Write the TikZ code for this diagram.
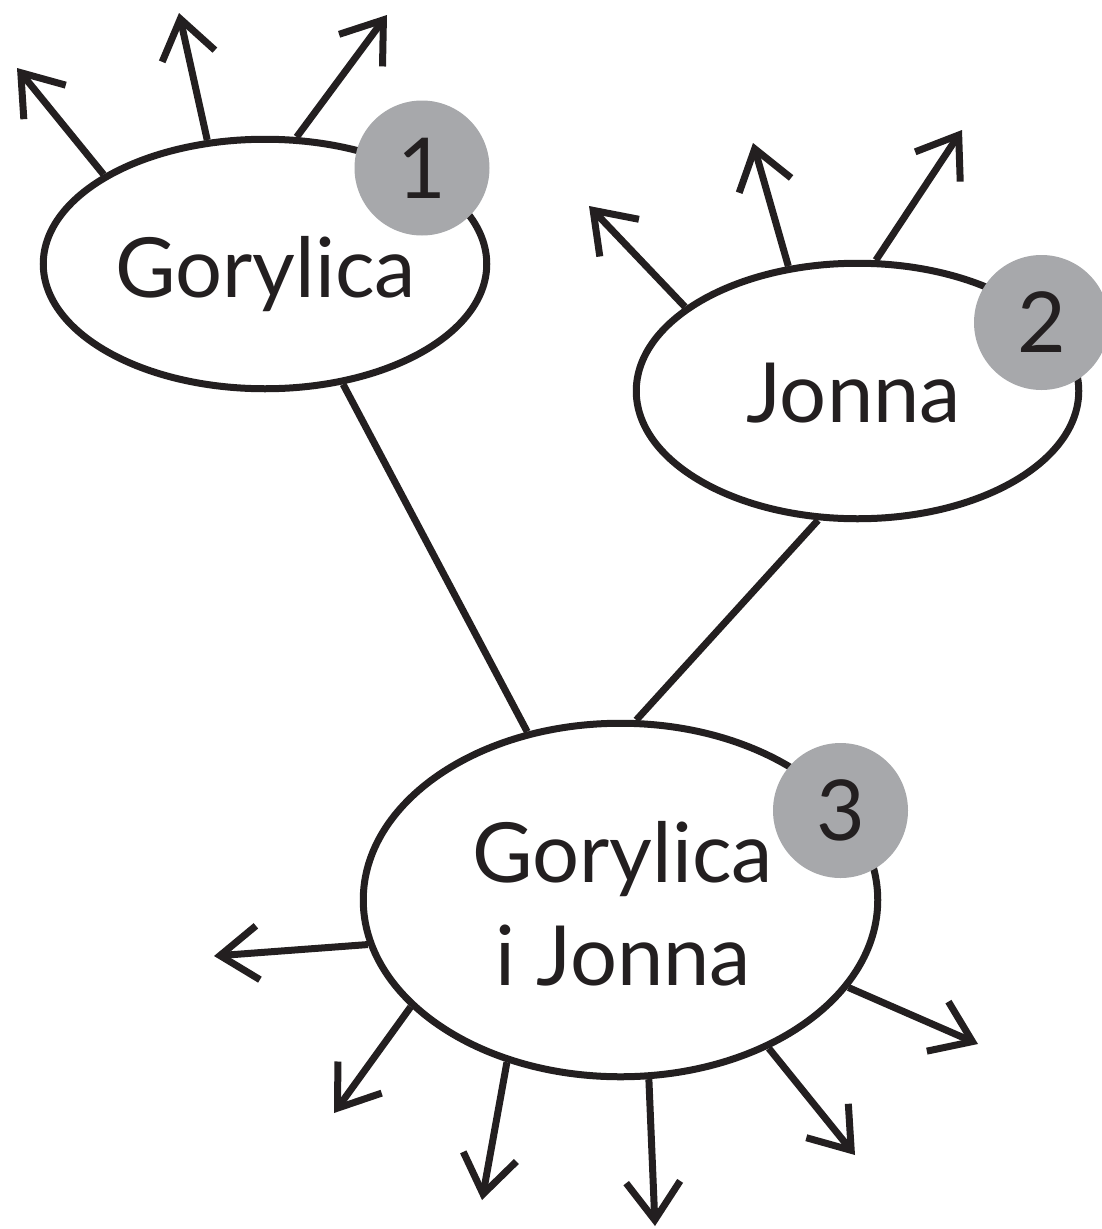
\documentclass[tikz,border=0pt]{standalone}
\usepackage{fontspec}
\setmainfont{Lato}
\usetikzlibrary{arrows.meta,shapes.geometric}
\definecolor{badgegray}{RGB}{167,168,171}
\definecolor{ink}{RGB}{35,31,32}
\begin{document}
\begin{tikzpicture}[x=1pt,y=-1pt,
  ell/.style={ellipse,draw=ink,line width=7pt,fill=white,inner sep=0pt},
  badge/.style={circle,fill=badgegray,minimum size=135pt,inner sep=0pt,font=\fontsize{84}{90}\selectfont,text=ink},
  lbl/.style={anchor=base,inner sep=0pt,font=\fontsize{83}{90}\selectfont,text=ink},
  link/.style={draw=ink,line width=7pt},
  outarrow/.style={draw=ink,line width=7pt,-{Straight Barb[length=38pt,width=54pt,line cap=butt,line join=miter]}}
]
\useasboundingbox (0,0) rectangle (1102,1229);
% ellipses
\node[ell,minimum width=443.5pt,minimum height=249.5pt] (g) at (265,264) {};
\node[ell,minimum width=442.5pt,minimum height=255.5pt] (j) at (857.5,391) {};
\node[ell,minimum width=514.5pt,minimum height=353.5pt] (gj) at (620.5,900) {};
% tips of outgoing arrows
\coordinate (g1) at (17,68);
\coordinate (g2) at (179,13);
\coordinate (g3) at (387,15);
\coordinate (j1) at (589,206);
\coordinate (j2) at (753,143);
\coordinate (j3) at (962,130);
\coordinate (k1) at (214,956);
\coordinate (k2) at (334,1113);
\coordinate (k3) at (482,1200);
\coordinate (k4) at (655,1226);
\coordinate (k5) at (855,1155);
\coordinate (k6) at (978,1044);
% links
\draw[link] (g.-57) -- (gj.119.1);
\draw[link] (j.253.7) -- (gj.85.3);
% outgoing arrows
\draw[outarrow] (g.151.4) -- (g1);
\draw[outarrow] (g.115.5) -- (g2);
\draw[outarrow] (g.76.9) -- (g3);
\draw[outarrow] (j.154.3) -- (j1);
\draw[outarrow] (j.119.3) -- (j2);
\draw[outarrow] (j.82.4) -- (j3);
\draw[outarrow] (gj.190.1) -- (k1);
\draw[outarrow] (gj.207.8) -- (k2);
\draw[outarrow] (gj.235.8) -- (k3);
\draw[outarrow] (gj.279.8) -- (k4);
\draw[outarrow] (gj.315.1) -- (k5);
\draw[outarrow] (gj.339.4) -- (k6);
% badges
\node[badge] (b1) at (422,168) {1};
\node[badge] (b2) at (1041.5,322.5) {2};
\node[badge] (b3) at (840.5,810.5) {3};
% labels
\node[lbl] (t1) at (265.5,297) {Gorylica};
\node[lbl] (t2) at (853.5,422) {Jonna};
\node[lbl] (t3) at (622.5,882) {Gorylica};
\node[lbl] (t4) at (623,985) {i Jonna};
\end{tikzpicture}
\end{document}
